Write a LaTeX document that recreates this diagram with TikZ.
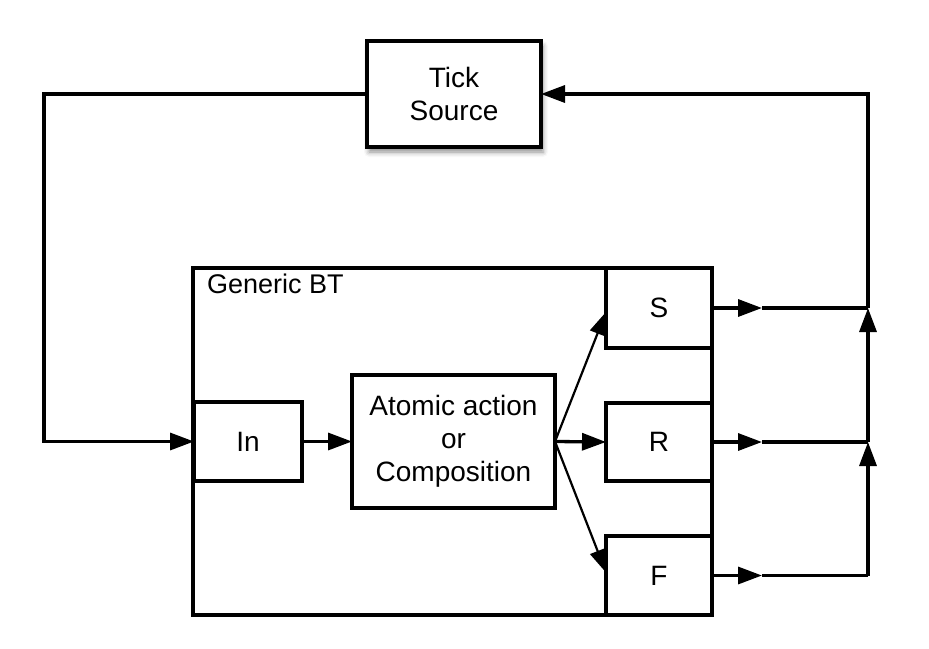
\documentclass[tikz,border=0pt]{standalone}
\usepackage{fontspec}
\setmainfont{Liberation Sans}
\usetikzlibrary{calc,positioning,arrows.meta,shadows.blur}

\begin{document}
\begin{tikzpicture}[x=1pt,y=-1pt,font=\fontsize{28}{33}\selectfont,
  box/.style={draw,line width=3.3pt,fill=white,inner sep=0pt,outer sep=0pt,align=center},
  wire/.style={line width=3.3pt},
  arr/.style={wire,-{Triangle[length=24pt,width=17pt]}},
  thinarr/.style={line width=2.2pt,-{Triangle[length=23pt,width=16pt]}}]
\useasboundingbox (0,0) rectangle (929,648);
\node[box,minimum width=519pt,minimum height=347pt] (bt) at (452.5,441.5) {};
\node[anchor=base west,inner sep=0pt,font=\fontsize{27}{32}\selectfont]
  (btlabel) at ($(bt.north west)+(14,25)$) {Generic BT};
\node[box,minimum width=174pt,minimum height=106pt,
  blur shadow={shadow xshift=2pt,shadow yshift=-5pt,shadow blur radius=5pt,shadow opacity=45}]
  (tick) at (454,94) {Tick\\Source};
\node[box,minimum width=108pt,minimum height=79pt] (in) at (248,441.5) {In};
\node[box,minimum width=203pt,minimum height=133pt] (act) at (453.5,441.5) {Atomic action\\or\\Composition};
\node[box,minimum width=106pt,minimum height=80pt] (succ) at (659,308) {S};
\node[box,minimum width=106pt,minimum height=78pt] (run) at (659,442) {R};
\node[box,minimum width=106pt,minimum height=79pt] (fail) at (659,575.5) {F};
% junctions on the right
\coordinate (sm) at (762,308);
\coordinate (rm) at (762,442);
\coordinate (fm) at (762,575.5);
\coordinate (sj) at (868,308);
\coordinate (rj) at (868,442);
\coordinate (fj) at (868,575.5);
\coordinate (lc) at (44,94);
% flow inside the tree
\draw[arr] (in.east) -- (act.west);
\draw[thinarr] (act.east) -- ($(succ.west)+(0,4)$);
\draw[arr] (act.east) -- (run.west);
\draw[thinarr] (act.east) -- ($(fail.west)+(0,-3)$);
% outputs back to the tick source
\draw[arr] (succ.east) -- (sm);
\draw[arr] (run.east) -- (rm);
\draw[arr] (fail.east) -- (fm);
\draw[wire] (sm) -- (sj);
\draw[wire] (rm) -- (rj);
\draw[wire] (fm) -- (fj);
\draw[arr] (fj) -- (rj);
\draw[arr] (rj) -- (sj);
\draw[arr] (sj) |- (tick.east);
\draw[arr] (tick.west) -- (lc) |- (in.west);
\end{tikzpicture}
\end{document}
